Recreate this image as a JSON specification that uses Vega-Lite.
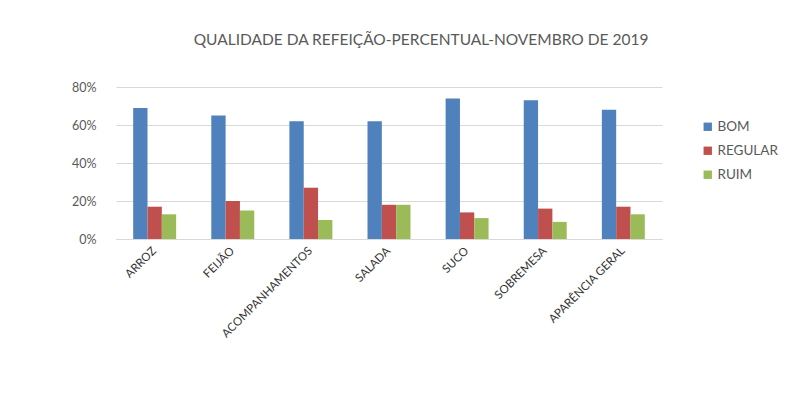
{
  "$schema": "https://vega.github.io/schema/vega-lite/v6.json",
  "autosize": "none",
  "width": 546,
  "height": 152,
  "padding": {"left": 116, "top": 87, "right": 133, "bottom": 162},
  "background": "white",
  "title": {
    "text": "QUALIDADE DA REFEIÇÃO-PERCENTUAL-NOVEMBRO DE 2019",
    "font": "Lato",
    "fontSize": 15.5,
    "fontWeight": "normal",
    "color": "#595959",
    "anchor": "middle",
    "dx": 32,
    "offset": 33
  },
  "data": {
    "values": [
      {"item": "ARROZ", "serie": "BOM", "valor": 0.69},
      {"item": "ARROZ", "serie": "REGULAR", "valor": 0.17},
      {"item": "ARROZ", "serie": "RUIM", "valor": 0.13},
      {"item": "FEIJÃO", "serie": "BOM", "valor": 0.65},
      {"item": "FEIJÃO", "serie": "REGULAR", "valor": 0.20},
      {"item": "FEIJÃO", "serie": "RUIM", "valor": 0.15},
      {"item": "ACOMPANHAMENTOS", "serie": "BOM", "valor": 0.62},
      {"item": "ACOMPANHAMENTOS", "serie": "REGULAR", "valor": 0.27},
      {"item": "ACOMPANHAMENTOS", "serie": "RUIM", "valor": 0.10},
      {"item": "SALADA", "serie": "BOM", "valor": 0.62},
      {"item": "SALADA", "serie": "REGULAR", "valor": 0.18},
      {"item": "SALADA", "serie": "RUIM", "valor": 0.18},
      {"item": "SUCO", "serie": "BOM", "valor": 0.74},
      {"item": "SUCO", "serie": "REGULAR", "valor": 0.14},
      {"item": "SUCO", "serie": "RUIM", "valor": 0.11},
      {"item": "SOBREMESA", "serie": "BOM", "valor": 0.73},
      {"item": "SOBREMESA", "serie": "REGULAR", "valor": 0.16},
      {"item": "SOBREMESA", "serie": "RUIM", "valor": 0.09},
      {"item": "APARÊNCIA GERAL", "serie": "BOM", "valor": 0.68},
      {"item": "APARÊNCIA GERAL", "serie": "REGULAR", "valor": 0.17},
      {"item": "APARÊNCIA GERAL", "serie": "RUIM", "valor": 0.13}
    ]
  },
  "mark": {"type": "bar", "stroke": null},
  "encoding": {
    "x": {
      "field": "item",
      "type": "nominal",
      "sort": null,
      "scale": {"paddingInner": 0.45, "paddingOuter": 0.22},
      "axis": {
        "title": null,
        "labelAngle": -45,
        "labelAlign": "right",
        "labelBaseline": "middle",
        "labelFont": "Lato",
        "labelFontSize": 11.5,
        "labelColor": "#333333",
        "labelPadding": 10,
        "ticks": false,
        "domain": true,
        "domainColor": "#d9d9d9",
        "grid": false
      }
    },
    "xOffset": {"field": "serie", "type": "nominal", "scale": {"paddingInner": 0, "paddingOuter": 0}},
    "y": {
      "field": "valor",
      "type": "quantitative",
      "scale": {"domain": [0, 0.8]},
      "axis": {
        "title": null,
        "format": ".0%",
        "values": [0, 0.2, 0.4, 0.6, 0.8],
        "labelFont": "Lato",
        "labelFontSize": 12.5,
        "labelColor": "#595959",
        "labelPadding": 20,
        "ticks": false,
        "domain": false,
        "gridColor": "#d9d9d9"
      }
    },
    "color": {
      "field": "serie",
      "type": "nominal",
      "scale": {"domain": ["BOM", "REGULAR", "RUIM"], "range": ["#4F81BD", "#C0504D", "#9BBB59"]},
      "legend": {
        "title": null,
        "orient": "none",
        "legendX": 585,
        "legendY": 33,
        "symbolType": "square",
        "symbolSize": 70,
        "symbolStrokeWidth": 0,
        "labelFont": "Lato",
        "labelFontSize": 13.5,
        "labelColor": "#595959",
        "rowPadding": 9,
        "labelOffset": 3
      }
    }
  },
  "config": {"view": {"stroke": null}}
}
